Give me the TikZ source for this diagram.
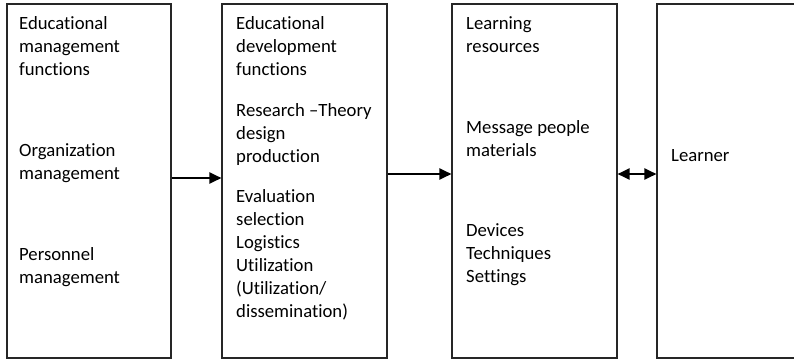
\documentclass[tikz,border=0pt]{standalone}
\usepackage{fontspec}
\setmainfont[Ligatures={NoCommon,NoContextual}]{Carlito}
\usetikzlibrary{arrows.meta}
\begin{document}
\begin{tikzpicture}[x=1pt,y=-1pt,
  panel/.style={draw=black!85, line width=1.1pt, minimum height=354pt, inner sep=0pt},
  lbl/.style={anchor=base west, inner sep=0pt, font=\fontsize{18.7}{23}\selectfont},
  arr/.style={line width=2pt, -{Triangle[length=12pt,width=11pt]}},
  darr/.style={line width=2pt, {Triangle[length=12pt,width=11pt]}-{Triangle[length=12pt,width=11pt]}}]
  \useasboundingbox (0,0) rectangle (794,359);
  \clip (0,0) rectangle (794,359);

  % four columns
  \node[panel, minimum width=164pt] (b1) at (89,181) {};
  \node[panel, minimum width=165pt] (b2) at (304.5,181) {};
  \node[panel, minimum width=165pt] (b3) at (534.5,181) {};
  \node[panel, minimum width=160pt] (b4) at (737,181) {};

  % management column
  \node[lbl] (t1a) at (19,29) {\begin{tabular}[t]{@{}l@{}}Educational\\management\\functions\end{tabular}};
  \node[lbl] (t1b) at (19,156) {\begin{tabular}[t]{@{}l@{}}Organization\\management\end{tabular}};
  \node[lbl] (t1c) at (19,260) {\begin{tabular}[t]{@{}l@{}}Personnel\\management\end{tabular}};

  % development column
  \node[lbl] (t2a) at (236,29) {\begin{tabular}[t]{@{}l@{}}Educational\\development\\functions\end{tabular}};
  \node[lbl] (t2b) at (236,116) {\begin{tabular}[t]{@{}l@{}}Research –Theory\\design\\production\end{tabular}};
  \node[lbl] (t2c) at (236,202) {\begin{tabular}[t]{@{}l@{}}Evaluation\\selection\\Logistics\\Utilization\\(Utilization/\\dissemination)\end{tabular}};

  % resources column
  \node[lbl] (t3a) at (466,29) {\begin{tabular}[t]{@{}l@{}}Learning\\resources\end{tabular}};
  \node[lbl] (t3b) at (466,133) {\begin{tabular}[t]{@{}l@{}}Message people\\materials\end{tabular}};
  \node[lbl] (t3c) at (466,236) {\begin{tabular}[t]{@{}l@{}}Devices\\Techniques\\Settings\end{tabular}};

  % learner column
  \node[lbl] (t4) at (671,161) {Learner};

  % connectors
  \draw[arr] ([yshift=3pt]b1.east) -- ([yshift=3pt]b2.west);
  \draw[arr] ([yshift=7pt]b2.east) -- ([yshift=7pt]b3.west);
  \draw[darr] ([yshift=7pt]b3.east) -- ([yshift=7pt]b4.west);
\end{tikzpicture}
\end{document}
